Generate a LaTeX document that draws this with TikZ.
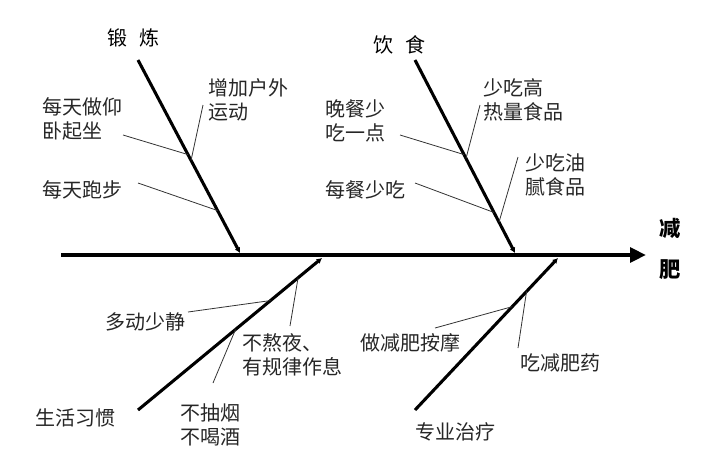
\documentclass[tikz,border=0pt]{standalone}
\usepackage{fontspec}
\setmainfont{Noto Sans CJK SC}
\usepackage{tikz}
\usetikzlibrary{arrows.meta, calc}

\begin{document}
\begin{tikzpicture}[
    x=0.75pt, y=-0.75pt,
    spine/.style = {line width=3.6pt, -{Triangle[length=12pt, width=11pt]}},
    bone/.style = {line width=2.3pt, -{Latex[length=4pt, width=4.5pt]}},
    leader/.style = {line width=0.6pt, black!80},
    cause/.style = {inner sep=0pt, anchor=west, align=left, font=\fontsize{15}{18}\selectfont, text=black!85},
    title/.style = {inner sep=0pt, font=\fontsize{16}{18}\selectfont\bfseries}
]

\useasboundingbox (0,0) rectangle (716,468);

% spine and main bones
\coordinate (tail) at (61, 255);
\coordinate (head) at (646, 255);

\coordinate (b1s) at (138, 60);
\coordinate (b1e) at (240, 253);
\coordinate (b2s) at (415, 60);
\coordinate (b2e) at (515, 253);
\coordinate (b3s) at (138, 410);
\coordinate (b3e) at (322, 258);
\coordinate (b4s) at (415, 410);
\coordinate (b4e) at (558, 258);

\draw[spine] (tail) -- (head);
\draw[bone] (b1s) -- (b1e);
\draw[bone] (b2s) -- (b2e);
\draw[bone] (b3s) -- (b3e);
\draw[bone] (b4s) -- (b4e);

% effect
\node [title] (jian) at (670, 228) {减};
\node [title] (fei) at (670, 270) {肥};

% category labels
\node [title, font=\fontsize{15}{18}\selectfont] (duanlian) at (133, 38) {锻\hspace{0.6em}炼};
\node [title, font=\fontsize{15}{18}\selectfont] (yinshi) at (399, 45) {饮\hspace{0.6em}食};
\node [cause] (shenghuo) at (35, 418) {生活习惯};
\node [cause] (zhiliao) at (415, 432) {专业治疗};

% causes
\node [cause] (yangwo) at (42, 119) {每天做仰\\卧起坐};
\node [cause] (paobu) at (42, 190) {每天跑步};
\node [cause] (huwai) at (208, 100) {增加户外\\运动};

\node [cause] (wancan) at (325, 121) {晚餐少\\吃一点};
\node [cause] (meican) at (325, 190) {每餐少吃};
\node [cause] (gaore) at (483, 100) {少吃高\\热量食品};
\node [cause] (youni) at (525, 175) {少吃油\\腻食品};

\node [cause] (duodong) at (105, 322) {多动少静};
\node [cause] (aoye) at (242, 355) {不熬夜、\\有规律作息};
\node [cause] (chouyan) at (180, 425) {不抽烟\\不喝酒};

\node [cause] (anmo) at (360, 343) {做减肥按摩};
\node [cause] (yao) at (520, 363) {吃减肥药};

% leader ends near the texts
\coordinate (l1) at (123, 135);
\coordinate (l2) at (138, 183);
\coordinate (l3) at (203, 105);
\coordinate (l4) at (400, 135);
\coordinate (l5) at (415, 183);
\coordinate (l6) at (480, 105);
\coordinate (l7) at (518, 157);
\coordinate (l8) at (188, 312);
\coordinate (l9) at (290, 326);
\coordinate (l10) at (213, 383);
\coordinate (l11) at (435, 328);
\coordinate (l12) at (518, 348);

\draw[leader] (l1) -- ($(b1s)!0.49!(b1e)$);
\draw[leader] (l2) -- ($(b1s)!0.78!(b1e)$);
\draw[leader] (l3) -- ($(b1s)!0.52!(b1e)$);

\draw[leader] (l4) -- ($(b2s)!0.49!(b2e)$);
\draw[leader] (l5) -- ($(b2s)!0.79!(b2e)$);
\draw[leader] (l6) -- ($(b2s)!0.51!(b2e)$);
\draw[leader] (l7) -- ($(b2s)!0.84!(b2e)$);

\draw[leader] (l8) -- ($(b3s)!0.72!(b3e)$);
\draw[leader] (l9) -- ($(b3s)!0.87!(b3e)$);
\draw[leader] (l10) -- ($(b3s)!0.53!(b3e)$);

\draw[leader] (l11) -- ($(b4s)!0.68!(b4e)$);
\draw[leader] (l12) -- ($(b4s)!0.78!(b4e)$);

\end{tikzpicture}
\end{document}
